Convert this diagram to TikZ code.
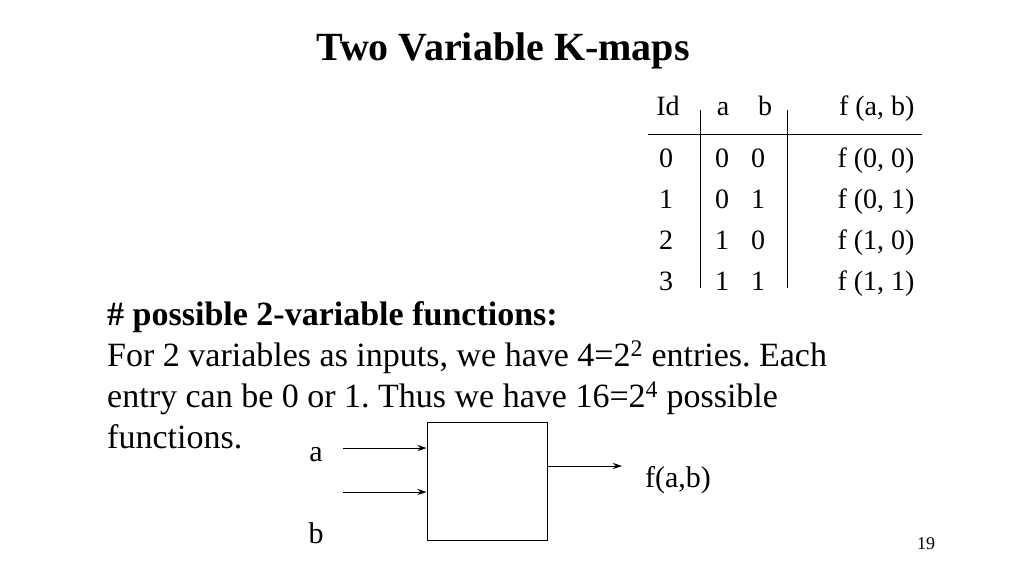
\documentclass[tikz,border=0pt]{standalone}
\usepackage{fontspec}
\setmainfont{Liberation Serif}
\usetikzlibrary{arrows.meta}
\frenchspacing
\begin{document}
\begin{tikzpicture}[x=1pt,y=-1pt,
  cell/.style={font=\fontsize{28}{33}\selectfont, anchor=base},
  txt/.style={font=\fontsize{34}{40}\selectfont, anchor=base west, inner sep=0pt},
  arr/.style={-{Stealth[length=9pt,width=6pt]}, line width=0.9pt}]
  \useasboundingbox (0,0) rectangle (1024,576);

  \node[font=\fontsize{40}{46}\selectfont\bfseries, anchor=base] (title) at (503,60) {Two Variable K-maps};

  %Table
  \node[cell] (hid) at (668,115) {Id};
  \node[cell] (ha) at (723,115) {a};
  \node[cell] (hb) at (765,115) {b};
  \node[cell, anchor=base east] (hf) at (918,115) {f (a, b)};
  \foreach \i/\a/\b [count=\r from 0] in {0/0/0,1/0/1,2/1/0,3/1/1} {
    \node[cell] (id\r) at (666,167+41*\r) {\i};
    \node[cell] (a\r) at (722,167+41*\r) {\a};
    \node[cell] (b\r) at (758,167+41*\r) {\b};
    \node[cell, anchor=base east] (f\r) at (918,167+41*\r) {f (\a, \b)};
  }
  \draw[line width=0.8pt] (648,134) -- (922,134);
  \draw[line width=0.8pt] (700,110) -- (700,288);
  \draw[line width=0.8pt] (787,110) -- (787,288);

  %Text
  \node[txt, font=\fontsize{34}{40}\selectfont\bfseries] (head) at (107,325) {\# possible 2-variable functions:};
  \node[txt] (l1) at (107,366) {For 2 variables as inputs, we have 4=2\textsuperscript{2} entries. Each};
  \node[txt] (l2) at (107,407) {entry can be 0 or 1. Thus we have 16=2\textsuperscript{4} possible};
  \node[txt] (l3) at (107,448) {functions.};

  %Block
  \node[draw, line width=1pt, minimum width=120, minimum height=118, inner sep=0pt] (box) at (487,481) {};
  \coordinate (ina) at (343,448);
  \coordinate (inb) at (343,492);
  \coordinate (outf) at (622,466);
  \draw[arr] (ina) -- (ina -| box.west);
  \draw[arr] (inb) -- (inb -| box.west);
  \draw[arr] (outf -| box.east) -- (outf);
  \node[cell, font=\fontsize{30}{35}\selectfont] (la) at (316,461) {a};
  \node[cell, font=\fontsize{30}{35}\selectfont] (lb) at (316,543) {b};
  \node[cell, font=\fontsize{30}{35}\selectfont] (lf) at (678,487) {f(a,b)};

  \node[font=\fontsize{18}{21}\selectfont, anchor=base] (page) at (926,549) {19};
\end{tikzpicture}
\end{document}
